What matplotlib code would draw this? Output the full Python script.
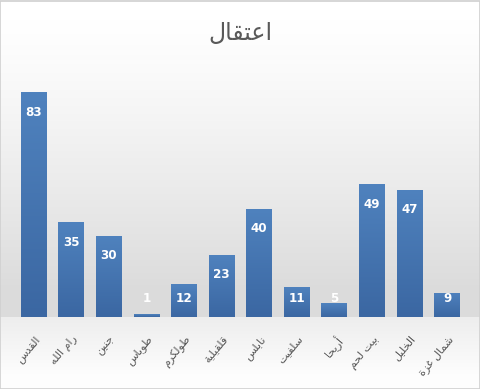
import numpy as np
import matplotlib
matplotlib.use("Agg")
import matplotlib.pyplot as plt
from matplotlib.colors import LinearSegmentedColormap

title = "اعتقال"
categories = ["القدس", "رام الله", "جنين", "طوباس", "طولكرم", "قلقيلية",
              "نابلس", "سلفيت", "أريحا", "بيت لحم", "الخليل", "شمال غزة"]
values = [83, 35, 30, 1, 12, 23, 40, 11, 5, 49, 47, 9]

# --- minimal Arabic shaping (presentation forms) ---
DUAL = {'ب': 0xFE8F, 'ت': 0xFE95, 'ج': 0xFE9D, 'ح': 0xFEA1, 'خ': 0xFEA5,
        'س': 0xFEB1, 'ش': 0xFEB5, 'ط': 0xFEC1, 'ع': 0xFEC9, 'غ': 0xFECD,
        'ف': 0xFED1, 'ق': 0xFED5, 'ك': 0xFED9, 'ل': 0xFEDD, 'م': 0xFEE1,
        'ن': 0xFEE5, 'ه': 0xFEE9, 'ي': 0xFEF1}
RIGHT = {'ا': 0xFE8D, 'أ': 0xFE83, 'د': 0xFEA9, 'ر': 0xFEAD, 'ز': 0xFEAF,
         'و': 0xFEED, 'ة': 0xFE93}


def shape(word):
    chars = list(word)
    out = []
    i = 0
    n = len(chars)
    while i < n:
        c = chars[i]
        prev_joins = i > 0 and chars[i - 1] in DUAL
        if c == 'ل' and i + 1 < n and chars[i + 1] in ('ا', 'أ'):
            base = 0xFEFB if chars[i + 1] == 'ا' else 0xFEF7
            out.append(chr(base + (1 if prev_joins else 0)))
            i += 2
            continue
        next_ok = i + 1 < n and (chars[i + 1] in DUAL or chars[i + 1] in RIGHT)
        if c in DUAL:
            if prev_joins and next_ok:
                cp = DUAL[c] + 3
            elif prev_joins:
                cp = DUAL[c] + 1
            elif next_ok:
                cp = DUAL[c] + 2
            else:
                cp = DUAL[c]
            out.append(chr(cp))
        elif c in RIGHT:
            out.append(chr(RIGHT[c] + (1 if prev_joins else 0)))
        else:
            out.append(c)
        i += 1
    return ''.join(out)


def visual(text):
    words = text.split(' ')
    shaped = [shape(w)[::-1] for w in words]
    return ' '.join(shaped[::-1])


W, H = 481, 389
fig = plt.figure(figsize=(W / 100, H / 100), dpi=100)

# background gradient
bg = fig.add_axes([0, 0, 1, 1])
bg.set_axis_off()
ys = np.linspace(0, 1, 400)  # 0 top -> 1 bottom
def bgval(t):
    px = t * H
    if px < 317:
        f = np.clip((px - 20) / 270, 0, 1)
        return 1.0 - 0.14 * f ** 1.2
    else:
        f = np.clip((px - 317) / 60, 0, 1)
        return 0.93 + 0.065 * f
col = np.array([bgval(t) for t in ys])
img = np.repeat(np.stack([col, col, col], axis=-1)[:, None, :], 2, axis=1)
bg.imshow(img, aspect='auto', extent=[0, 1, 0, 1])
bg.set_xlim(0, 1)
bg.set_ylim(0, 1)
bg.add_patch(plt.Rectangle((0.001, 0.001), 0.997, 0.996, fill=False,
                           edgecolor='#d0d0d0', lw=1.2))

ax_bottom = (H - 317) / H
ymax = 90
ax_h = ymax * 2.71 / H
ax = fig.add_axes([15 / W, ax_bottom, 451 / W, ax_h])
ax.patch.set_alpha(0)
x = np.arange(len(categories))
bars = ax.bar(x, values, width=0.69, color='#4a7bb8', zorder=2)

cmap = LinearSegmentedColormap.from_list('b', ['#3b67a2', '#4f82be'])
grad = np.linspace(0, 1, 100)[:, None]
for b in bars:
    x0, w, h = b.get_x(), b.get_width(), b.get_height()
    im = ax.imshow(grad, cmap=cmap, origin='lower', aspect='auto',
                   extent=[x0, x0 + w, 0, h], zorder=3)
    im.set_clip_path(b)

ax.set_xlim(-0.5, len(categories) - 0.5)
ax.set_ylim(0, ymax)
for s in ax.spines.values():
    s.set_visible(False)
ax.set_yticks([])
ax.set_xticks(x)
ax.set_xticklabels([visual(c) for c in categories], rotation=50, ha='right',
                   rotation_mode='anchor', fontsize=8, color='#595959',
                   family=['DejaVu Sans'])
ax.tick_params(axis='x', length=0, pad=12)

for xi, v in zip(x, values):
    ax.text(xi, max(v - 7.4, 7.0), str(v), ha='center', va='center',
            color='white', fontsize=9.5, fontweight='bold',
            family=['DejaVu Sans'], stretch='condensed', zorder=5)

fig.text(0.5, 1 - 33 / H, visual(title), ha='center', va='center',
         fontsize=17, color='#595959', family=['DejaVu Sans'])

fig.savefig('out.png', dpi=100)
